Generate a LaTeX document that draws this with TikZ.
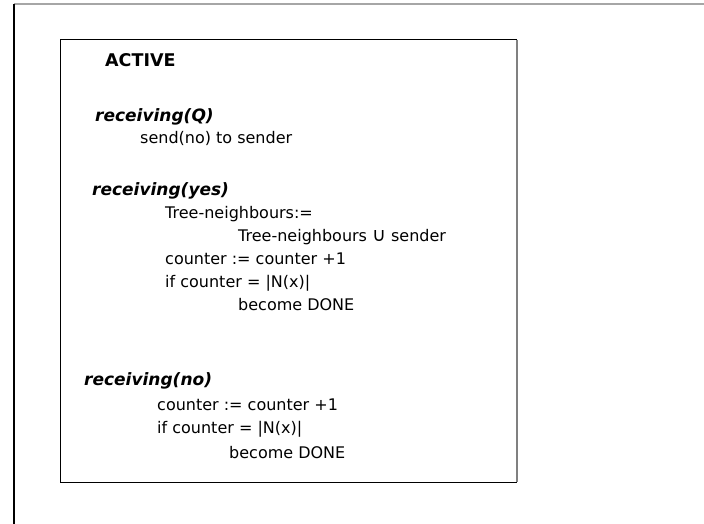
\documentclass[tikz,border=0pt]{standalone}
\usepackage{fontspec}
\setmainfont{DejaVu Sans}
\begin{document}
\begin{tikzpicture}[x=1pt,y=-1pt,
  txt/.style={anchor=base west,inner sep=0pt,font=\fontsize{16}{19}\selectfont},
  hdr/.style={txt,font=\fontsize{17.5}{20}\selectfont\bfseries},
  evt/.style={txt,font=\fontsize{17}{20}\selectfont\bfseries\itshape}]
\useasboundingbox (0,0) rectangle (704,524);
\fill[white] (0,0) rectangle (704,524);
% outer frame
\coordinate (o1) at (14,4);
\coordinate (o2) at (704,4);
\coordinate (o3) at (14,524);
\draw[gray!70,line width=1.2pt] (o1) -- (o2);
\draw[black,line width=1.2pt] (o1) -- (o3);
% inner box
\coordinate (b1) at (60,40);
\coordinate (b2) at (517,40);
\coordinate (b3) at (517,482);
\coordinate (b4) at (60,482);
\draw[black,line width=1pt] (b2) -- (b1) -- (b4) -- (b3);
\draw[gray,line width=1.6pt] (b2) -- (b3);
% texts
\node[hdr] (t1) at (105,67) {ACTIVE};
\node[evt] (t2) at (95,122) {receiving(Q)};
\node[txt] (t3) at (140,143) {send(no) to sender};
\node[evt] (t4) at (92,195) {receiving(yes)};
\node[txt] (t5) at (165,218) {Tree-neighbours:=};
\node[txt] (t6) at (238,241) {Tree-neighbours {\fontsize{19}{19}\selectfont ∪} sender};
\node[txt] (t7) at (165,264) {counter := counter +1};
\node[txt] (t8) at (165,287) {if counter = |N(x)|};
\node[txt] (t9) at (238,310) {become DONE};
\node[evt] (t10) at (84,385) {receiving(no)};
\node[txt] (t11) at (157,410) {counter := counter +1};
\node[txt] (t12) at (157,433) {if counter = |N(x)|};
\node[txt] (t13) at (229,458) {become DONE};
\end{tikzpicture}
\end{document}
